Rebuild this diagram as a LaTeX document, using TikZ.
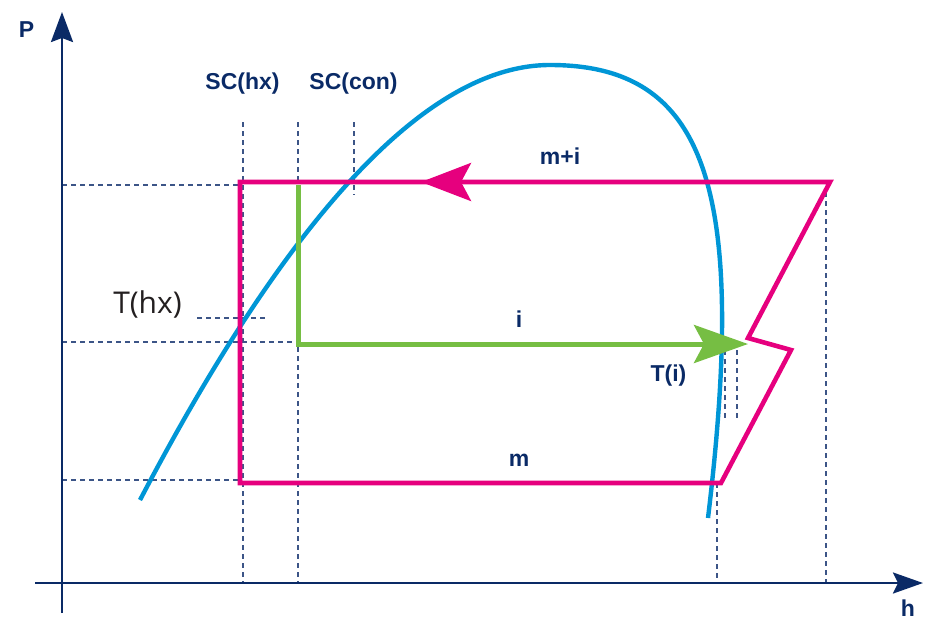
\documentclass[tikz,border=0pt]{standalone}
\usepackage{fontspec}
\setmainfont{Liberation Sans}
\newfontfamily\thxfont{Open Sans}
\usetikzlibrary{arrows.meta}
\definecolor{navy}{RGB}{10,42,102}
\definecolor{dashc}{RGB}{60,85,135}
\definecolor{curveblue}{RGB}{0,150,214}
\definecolor{mag}{RGB}{230,0,126}
\definecolor{grn}{RGB}{118,190,67}
\definecolor{txtdark}{RGB}{35,31,32}
\begin{document}
\begin{tikzpicture}[x=1pt,y=-1pt,
  axis/.style={draw=navy,line width=2.6pt},
  guide/.style={draw=dashc,line width=1.1pt,dash pattern=on 5pt off 4pt},
  cyc/.style={draw=mag,line width=4.6pt,line join=miter},
  injl/.style={draw=grn,line width=5pt},
  sat/.style={draw=curveblue,line width=4.4pt},
  lbl/.style={text=navy,font=\bfseries\fontsize{23}{26}\selectfont,inner sep=0pt,anchor=base}]
\useasboundingbox (0,0) rectangle (934,622);

% coordinates
\coordinate (o1) at (62,613);
\coordinate (ytip) at (62,12);
\coordinate (x0) at (35,583);
\coordinate (xtip) at (923,583);
\coordinate (A) at (240,182);
\coordinate (B) at (830,182);
\coordinate (C) at (748,338);
\coordinate (D) at (791,350);
\coordinate (E) at (721,483);
\coordinate (F) at (240,483);
\coordinate (G1) at (298,185);
\coordinate (G2) at (298,344);
\coordinate (G3) at (748,344);
\coordinate (Mstart) at (520,182);
\coordinate (Mtip) at (421,182);
\coordinate (S0) at (140,500);
\coordinate (Stop) at (550,65);
\coordinate (S1) at (708,518);

% guide lines
\coordinate (ga1) at (62,185);  \coordinate (ga2) at (240,185);
\coordinate (gb1) at (62,342);  \coordinate (gb2) at (298,342);
\coordinate (gc1) at (62,480);  \coordinate (gc2) at (240,480);
\coordinate (gd1) at (197,318); \coordinate (gd2) at (268,318);
\coordinate (v1a) at (243,122); \coordinate (v1b) at (243,583);
\coordinate (v2a) at (298,122); \coordinate (v2b) at (298,583);
\coordinate (v3a) at (354,122); \coordinate (v3b) at (354,195);
\coordinate (v4a) at (725,350); \coordinate (v4b) at (725,420);
\coordinate (v5a) at (737,350); \coordinate (v5b) at (737,420);
\coordinate (v6a) at (826,192); \coordinate (v6b) at (826,583);
\coordinate (v7a) at (717,483); \coordinate (v7b) at (717,583);
\foreach \a/\b in {ga1/ga2,gb1/gb2,gc1/gc2,gd1/gd2,v1a/v1b,v2a/v2b,v3a/v3b,v4a/v4b,v5a/v5b,v6a/v6b,v7a/v7b}
  \draw[guide] (\a) -- (\b);

% axes
\draw[axis,-{Stealth[length=30pt,width=22pt,inset=4pt]}] (o1) -- (ytip);
\draw[axis,-{Stealth[length=30pt,width=21pt,inset=5pt]}] (x0) -- (xtip);

% saturation curve
\draw[sat] (S0) .. controls (250,290) and (400,65) .. (Stop)
  .. controls (705,65) and (748,185) .. (S1);

% cycle
\draw[cyc] (A) -- (B) -- (C) -- (D) -- (E) -- (F) -- cycle;
\draw[draw=mag,line width=4.6pt,-{Stealth[length=50pt,width=38pt,inset=10pt]}] (Mstart) -- (Mtip);

% injection
\draw[injl,-{Stealth[length=54pt,width=38pt,inset=10pt]}] (G1) -- (G2) -- (G3);

% labels
\node[lbl] (P) at (26.5,37) {P};
\node[lbl] (h) at (908,616) {h};
\node[lbl] (schx) at (242.5,89) {SC(hx)};
\node[lbl] (sccon) at (353.5,89) {SC(con)};
\node[lbl] (mi) at (560,164) {m+i};
\node[lbl] (i) at (519,327) {i};
\node[lbl] (Ti) at (668.5,381) {T(i)};
\node[lbl] (m) at (519,466) {m};
\node[inner sep=0pt,anchor=base,text=txtdark,font=\thxfont\fontsize{30}{34}\selectfont] (Thx) at (147.5,313) {T(hx)};
\end{tikzpicture}
\end{document}
